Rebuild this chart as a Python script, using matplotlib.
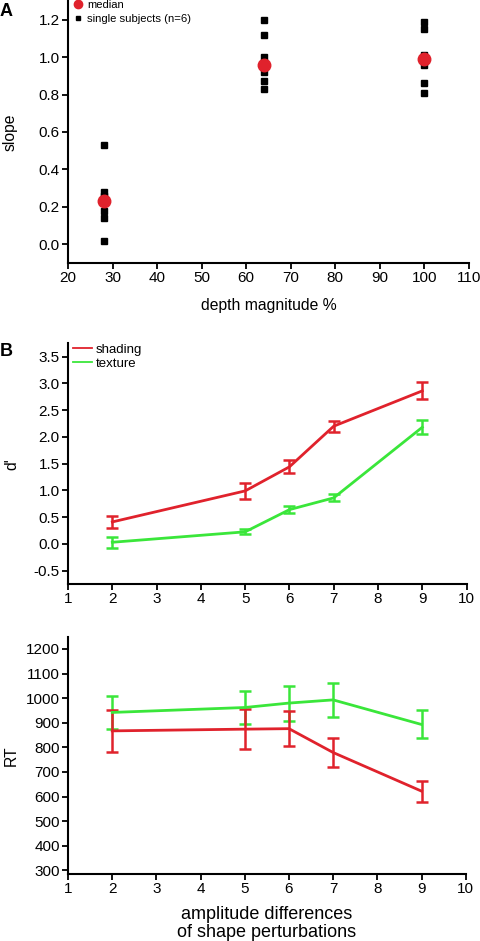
import matplotlib
matplotlib.use('Agg')
import matplotlib.pyplot as plt
from matplotlib.lines import Line2D

plt.rcParams['font.family'] = ['Liberation Sans', 'DejaVu Sans']

# Panel A data: slope vs depth magnitude
depth = [28, 64, 100]
subjects = [
    [0.53, 0.28, 0.26, 0.18, 0.14, 0.02],
    [1.20, 1.12, 1.00, 0.92, 0.87, 0.83],
    [1.19, 1.15, 1.01, 0.96, 0.86, 0.81],
]
medians = [0.23, 0.96, 0.99]

# Panel B / C data
amp = [2, 5, 6, 7, 9]
dprime_shading = [0.41, 0.99, 1.44, 2.20, 2.86]
dprime_shading_err = [0.12, 0.15, 0.12, 0.10, 0.16]
dprime_texture = [0.03, 0.225, 0.64, 0.86, 2.18]
dprime_texture_err = [0.10, 0.045, 0.06, 0.065, 0.135]
rt_shading = [867, 874, 876, 779, 622]
rt_shading_err = [84, 80, 70, 57, 43]
rt_texture = [942, 962, 980, 993, 893]
rt_texture_err = [68, 67, 71, 68, 57]

red = '#e0222c'
green = '#3ae63a'
tick_fs = 11

fig = plt.figure(figsize=(4.8, 9.41), dpi=100)

def style(ax):
    for s in ['top', 'right']:
        ax.spines[s].set_visible(False)
    for s in ['left', 'bottom']:
        ax.spines[s].set_linewidth(1.5)
    ax.tick_params(direction='out', length=4, width=1.3, labelsize=tick_fs, pad=2)

# ---------------- A
axA = fig.add_axes([0.1417, 0.7205, 0.8353, 0.2785])
for x, vals in zip(depth, subjects):
    axA.plot([x] * len(vals), vals, 's', color='black', markersize=4.5, linestyle='none')
axA.plot(depth, medians, 'o', color=red, markersize=9, linestyle='none')
axA.set_xlim(20, 110)
axA.set_ylim(-0.1, 1.3)
axA.set_xticks(range(20, 111, 10))
axA.set_yticks([0.0, 0.2, 0.4, 0.6, 0.8, 1.0, 1.2])
axA.set_yticklabels(['0.0', '0.2', '0.4', '0.6', '0.8', '1.0', '1.2'])
axA.set_xlabel('depth magnitude %', fontsize=11.3, labelpad=9)
axA.set_ylabel('slope', fontsize=11.3, labelpad=15)
style(axA)
handles = [Line2D([], [], marker='o', color=red, linestyle='none', markersize=6),
           Line2D([], [], marker='s', color='black', linestyle='none', markersize=3)]
axA.legend(handles, ['median', 'single subjects (n=6)'], loc='upper left',
           bbox_to_anchor=(0.0, 1.022), frameon=False, fontsize=8.1,
           handletextpad=0.3, handlelength=1.0, labelspacing=0.35, borderaxespad=0)
fig.text(0.0, 0.988, 'A', fontsize=13, fontweight='bold', va='center')

# ---------------- B
axB = fig.add_axes([0.1417, 0.3794, 0.8303, 0.2558])
axB.errorbar(amp, dprime_shading, yerr=dprime_shading_err, color=red, lw=2,
             capsize=4, capthick=1.8, elinewidth=1.8, label='shading')
axB.errorbar(amp, dprime_texture, yerr=dprime_texture_err, color=green, lw=2,
             capsize=4, capthick=1.8, elinewidth=1.8, label='texture')
axB.set_xlim(1, 10)
axB.set_ylim(-0.75, 3.75)
axB.set_xticks(range(1, 11))
axB.set_yticks([-0.5, 0.0, 0.5, 1.0, 1.5, 2.0, 2.5, 3.0, 3.5])
axB.set_yticklabels(['-0.5', '0.0', '0.5', '1.0', '1.5', '2.0', '2.5', '3.0', '3.5'])
axB.set_ylabel("d'", fontsize=11.3, labelpad=10)
style(axB)
lh = [Line2D([], [], color=red, lw=1.3), Line2D([], [], color=green, lw=1.3)]
axB.legend(lh, ['shading', 'texture'], loc='upper left', bbox_to_anchor=(0.0, 1.02),
           frameon=False, fontsize=9.5, handlelength=1.4, handletextpad=0.3,
           labelspacing=0.1, borderaxespad=0)
fig.text(0.0, 0.626, 'B', fontsize=13, fontweight='bold', va='center')

# ---------------- C
axC = fig.add_axes([0.1417, 0.0712, 0.8285, 0.2522])
axC.errorbar(amp, rt_texture, yerr=rt_texture_err, color=green, lw=2,
             capsize=4, capthick=1.8, elinewidth=1.8)
axC.errorbar(amp, rt_shading, yerr=rt_shading_err, color=red, lw=2,
             capsize=4, capthick=1.8, elinewidth=1.8)
axC.set_xlim(1, 10)
axC.set_ylim(285, 1250)
axC.set_xticks(range(1, 11))
axC.set_yticks(range(300, 1201, 100))
axC.set_ylabel('RT', fontsize=11.3, labelpad=5)
axC.set_xlabel('amplitude differences\nof shape perturbations', fontsize=13, labelpad=7,
               linespacing=1.05)
style(axC)

fig.savefig('out.png', dpi=100)
